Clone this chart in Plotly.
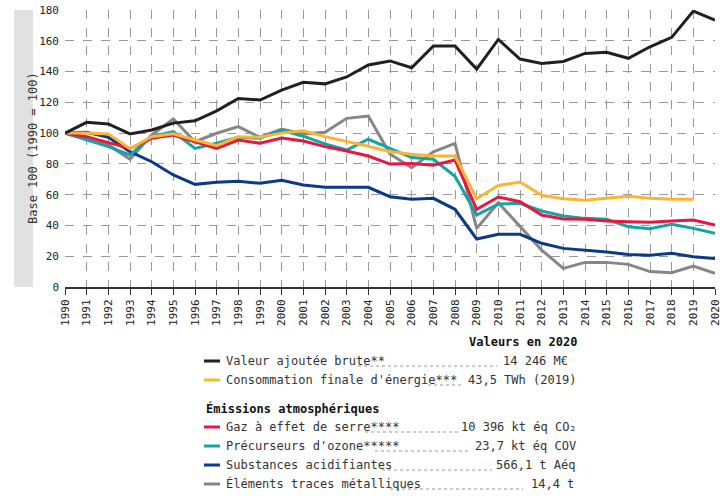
import plotly.graph_objects as go

years = list(range(1990, 2021))

valeur_ajoutee = [100, 107, 106, 99.5, 102, 106.5, 108, 114.5, 122.5, 121.5, 128, 133, 132,
                  136.5, 144.3, 146.9, 142.5, 156.6, 156.6, 141.6, 160.9, 148.1, 145.3, 146.6,
                  151.8, 152.5, 148.6, 156.1, 162.2, 179.3, 173.5]
consommation = [100, 100, 99.5, 89.8, 97.7, 99.5, 95.5, 91.8, 97.7, 97.3, 100, 101.5, 97.7,
                94.6, 91.5, 87.9, 86.2, 85.2, 85.1, 57.4, 66, 68.2, 59.6, 57.4, 56.3, 57.6,
                59, 57.6, 57, 57, None]
gaz_serre = [100, 97.7, 93.8, 90, 96.6, 98.8, 94.4, 90.1, 95.5, 93.4, 96.8, 94.9, 91.2, 88.4,
             85.1, 79.9, 80.3, 79.1, 82.5, 50.5, 58.5, 55.4, 46.8, 44.2, 44, 42.9, 42.4, 42,
             42.9, 43.5, 40.3]
ozone = [100, 95.5, 91.2, 85.8, 97.7, 100.9, 90.1, 93.4, 97.3, 96.6, 101.8, 98, 93, 89, 96,
         90.1, 84.1, 83, 71.9, 46.8, 53.9, 54.4, 49.4, 46.1, 44.6, 44, 39.2, 37.9, 40.7, 38.1,
         34.9]
acidifiantes = [100, 100.5, 97.3, 87.9, 81.4, 72.8, 66.7, 68, 68.7, 67.4, 69.3, 66.3, 64.8,
                64.8, 64.8, 58.7, 57, 57.6, 50.5, 31.2, 34.2, 34.2, 28.4, 25.1, 24, 22.7, 21.2,
                20.6, 21.9, 19.7, 18.6]
metaux = [100, 96.5, 92.3, 83, 98.8, 109.2, 94.4, 99.9, 104.2, 97.3, 102.7, 99.4, 100.5, 109.6,
          111.1, 86.4, 77.5, 87.9, 93.3, 38.1, 54.8, 39.2, 24, 12.1, 16, 16, 14.7, 10, 9.3, 13.6,
          8.9]

series_names = ["Valeur ajoutée brute**", "Consommation finale d'énergie***",
                "Gaz à effet de serre****", "Précurseurs d'ozone*****",
                "Substances acidifiantes", "Éléments traces métalliques"]
values_2020 = ["14 246 M€", "43,5 TWh (2019)", "10 396 kt éq CO₂", "23,7 kt éq COV",
               "566,1 t Aéq", "14,4 t"]
series_data = [valeur_ajoutee, consommation, gaz_serre, ozone, acidifiantes, metaux]
colors = ["#231f20", "#fbb535", "#e8173f", "#15a3a3", "#0c3a86", "#868686"]
draw_order = [5, 4, 3, 2, 1, 0]

FONT = "DejaVu Sans Mono"

# plot area in pixels: x 65..715, y 10..287
def px(x):
    return (x - 65) / 650


def py(y):
    return (287 - y) / 277


fig = go.Figure()
for i in draw_order:
    fig.add_trace(go.Scatter(x=years, y=series_data[i], mode="lines", name=series_names[i],
                             line={"color": colors[i], "width": 3}, showlegend=False))

shapes = [
    # grey band behind y axis title
    dict(type="rect", xref="paper", yref="paper", x0=px(14), x1=px(33), y0=0, y1=1,
         fillcolor="#e1e1e1", line={"width": 0}, layer="below"),
]
annotations = [
    dict(text="Base 100 (1990 = 100)", xref="paper", yref="paper", x=px(23.5), y=0.5,
         textangle=-90, showarrow=False, font={"size": 12, "color": "#333"}),
    dict(text="<b>Valeurs en 2020</b>", xref="paper", yref="paper", x=px(579), y=py(342),
         xanchor="right", yanchor="middle", showarrow=False, font={"size": 12, "color": "#111"}),
    dict(text="<b>Émissions atmosphériques</b>", xref="paper", yref="paper", x=px(204),
         y=py(408), xanchor="left", yanchor="middle", showarrow=False,
         font={"size": 12, "color": "#111"}),
]

row_y = [361, 380, 427, 446, 465, 484]
value_right = [570, 578, 579, 578, 577, 576]
leader = [(358, 497), (428, 462), (365, 458), (375, 468), (382, 492), (390, 523)]
for i, name in enumerate(series_names):
    y = row_y[i]
    shapes.append(dict(type="line", xref="paper", yref="paper", x0=px(204), x1=px(220),
                       y0=py(y), y1=py(y), line={"color": colors[i], "width": 3}))
    shapes.append(dict(type="line", xref="paper", yref="paper", x0=px(leader[i][0]),
                       x1=px(leader[i][1]), y0=py(y + 5), y1=py(y + 5),
                       line={"color": "#999", "width": 1, "dash": "dot"}))
    annotations.append(dict(text=name, xref="paper", yref="paper", x=px(224), y=py(y),
                            xanchor="left", yanchor="middle", showarrow=False,
                            font={"size": 12, "color": "#333"}))
    annotations.append(dict(text=values_2020[i], xref="paper", yref="paper",
                            x=px(value_right[i]), y=py(y), xanchor="right", yanchor="middle",
                            showarrow=False, font={"size": 12, "color": "#333"}))

fig.update_layout(
    width=725,
    height=500,
    margin={"l": 65, "r": 10, "t": 10, "b": 213},
    paper_bgcolor="white",
    plot_bgcolor="white",
    font={"family": FONT, "size": 11, "color": "#222"},
    shapes=shapes,
    annotations=annotations,
    xaxis={
        "range": [1990, 2020],
        "tickmode": "array",
        "tickvals": years,
        "ticktext": [str(y) for y in years],
        "tickangle": -90,
        "ticks": "outside",
        "ticklen": 6,
        "tickcolor": "#333",
        "showline": True,
        "linecolor": "#333",
        "linewidth": 2,
        "showgrid": True,
        "gridcolor": "#999",
        "griddash": "dash",
        "gridwidth": 1,
        "zeroline": False,
        "automargin": False,
        "tickfont": {"size": 11},
    },
    yaxis={
        "range": [0, 180],
        "tickvals": list(range(0, 181, 20)),
        "showgrid": True,
        "gridcolor": "#999",
        "griddash": "dash",
        "gridwidth": 1,
        "zeroline": False,
        "showline": False,
        "ticks": "",
        "ticklabelstandoff": 5,
        "automargin": False,
        "tickfont": {"size": 11},
    },
)

# the page's default 8px body margin would push the figure off the window
fig.write_html("out.html", config={"displayModeBar": False},
               post_script="document.body.style.margin = '0';")
